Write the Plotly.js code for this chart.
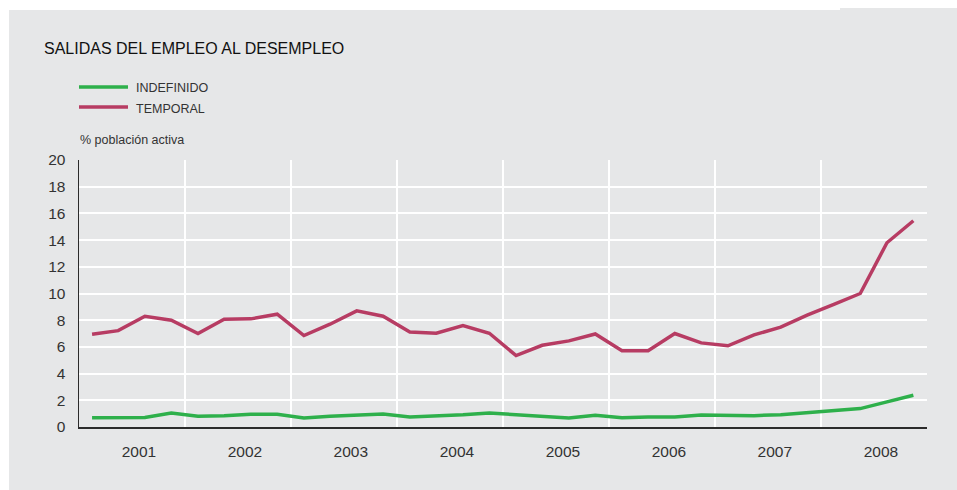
<!DOCTYPE html>
<html>
<head>
<meta charset="utf-8">
<script src="https://cdn.plot.ly/plotly-3.0.1.min.js"></script>
<style>html,body{margin:0;padding:0;background:#fff;}#chart{width:957px;height:490px;}</style>
</head>
<body>
<div id="chart"></div>
<script>
// ---- data ----
const years = [2001, 2002, 2003, 2004, 2005, 2006, 2007, 2008];
const quarters = [1, 2, 3, 4];
const seriesNames = ['INDEFINIDO', 'TEMPORAL'];
const indefinido = [
  0.70, 0.70, 0.72, 1.05,
  0.80, 0.85, 0.95, 0.95,
  0.68, 0.80, 0.90, 0.98,
  0.75, 0.82, 0.92, 1.05,
  0.92, 0.75, 0.68, 0.88,
  0.70, 0.75, 0.75, 0.90,
  0.85, 0.85, 0.92, 1.08,
  1.20, 1.38, 1.88, 2.38
];
const temporal = [
  6.95, 7.22, 8.30, 8.00,
  7.00, 8.08, 8.10, 8.45,
  6.85, 7.70, 8.70, 8.30,
  7.12, 7.02, 7.60, 7.02,
  5.35, 6.12, 6.45, 6.97,
  5.72, 5.72, 7.00, 6.30,
  6.08, 6.90, 7.48, 8.38,
  9.18, 10.00, 13.80, 15.45
];
const yTicks = [0, 2, 4, 6, 8, 10, 12, 14, 16, 18, 20];
const titleText = 'SALIDAS DEL EMPLEO AL DESEMPLEO';
const yCaption = '% población activa';

// ---- x positions: middle of each quarter (dates) ----
const midMonth = {1: '02-15', 2: '05-16', 3: '08-16', 4: '11-15'};
const xDates = [];
years.forEach(y => quarters.forEach(q => xDates.push(y + '-' + midMonth[q])));

const colors = ['#2eb04b', '#b73c63'];
const grey = '#e6e7e8';
const font = 'Liberation Sans, Arial, Helvetica, sans-serif';

// plot-area pixel geometry -> paper coords helpers
const W = 957, H = 490;
const mL = 79, mR = 30, mT = 160, mB = 63;
const L = mL, R = W - mR, T = mT, B = H - mB;
const fx = p => (p - L) / (R - L);
const fy = p => (B - p) / (B - T);

const traces = [indefinido, temporal].map((vals, i) => ({
  type: 'scatter', mode: 'lines', name: seriesNames[i],
  x: xDates, y: vals,
  line: {color: colors[i], width: 3.5},
  showlegend: false, hoverinfo: 'x+y'
}));

const shapes = [
  {type: 'rect', xref: 'paper', yref: 'paper', layer: 'below',
   x0: fx(9), x1: fx(957), y0: fy(490), y1: fy(10), fillcolor: grey, line: {width: 0}},
  {type: 'rect', xref: 'paper', yref: 'paper', layer: 'below',
   x0: fx(840), x1: fx(957), y0: fy(10), y1: fy(8), fillcolor: grey, line: {width: 0}}
];
const annotations = [];
seriesNames.forEach((n, i) => {
  const yy = 87 + i * 20;
  shapes.push({type: 'line', xref: 'paper', yref: 'paper',
    x0: fx(79), x1: fx(128), y0: fy(yy), y1: fy(yy), line: {color: colors[i], width: 3.5}});
  annotations.push({xref: 'paper', yref: 'paper', x: fx(134), y: fy(yy + 1.5),
    xanchor: 'left', yanchor: 'middle', showarrow: false, text: n,
    font: {family: font, size: 12.5, color: '#333'}});
});
annotations.push({xref: 'paper', yref: 'paper', x: fx(78), y: fy(140),
  xanchor: 'left', yanchor: 'middle', showarrow: false, text: yCaption,
  font: {family: font, size: 12.5, color: '#333'}});

const layout = {
  width: W, height: H,
  margin: {l: mL, r: mR, t: mT, b: mB, pad: 0},
  paper_bgcolor: '#ffffff',
  plot_bgcolor: 'rgba(0,0,0,0)',
  font: {family: font, color: '#333'},
  title: {text: titleText, x: 44 / W, xanchor: 'left', xref: 'container',
          y: 1 - 48 / H, yanchor: 'middle', yref: 'container',
          font: {family: font, size: 16, color: '#111'}},
  xaxis: {
    type: 'date', range: ['2001-01-01', '2009-01-01'],
    tick0: '2001-01-01', dtick: 'M12', ticklabelmode: 'period', tickformat: '%Y',
    ticklabelshift: 7,
    showgrid: true, gridcolor: '#ffffff', gridwidth: 2,
    showline: true, linecolor: '#2b2b2b', linewidth: 1.5,
    ticks: 'outside', ticklen: 10, tickcolor: 'rgba(0,0,0,0)',
    tickfont: {family: font, size: 15.5, color: '#333'},
    zeroline: false, fixedrange: true
  },
  yaxis: {
    range: [0, 20], tickvals: yTicks,
    showgrid: true, gridcolor: '#ffffff', gridwidth: 2,
    showline: true, linecolor: '#2b2b2b', linewidth: 1.5,
    ticks: 'outside', ticklen: 9, tickcolor: 'rgba(0,0,0,0)',
    tickfont: {family: font, size: 15.5, color: '#333'},
    zeroline: false, fixedrange: true
  },
  shapes: shapes,
  annotations: annotations
};

Plotly.newPlot('chart', traces, layout, {displayModeBar: false, staticPlot: true});
</script>
</body>
</html>
